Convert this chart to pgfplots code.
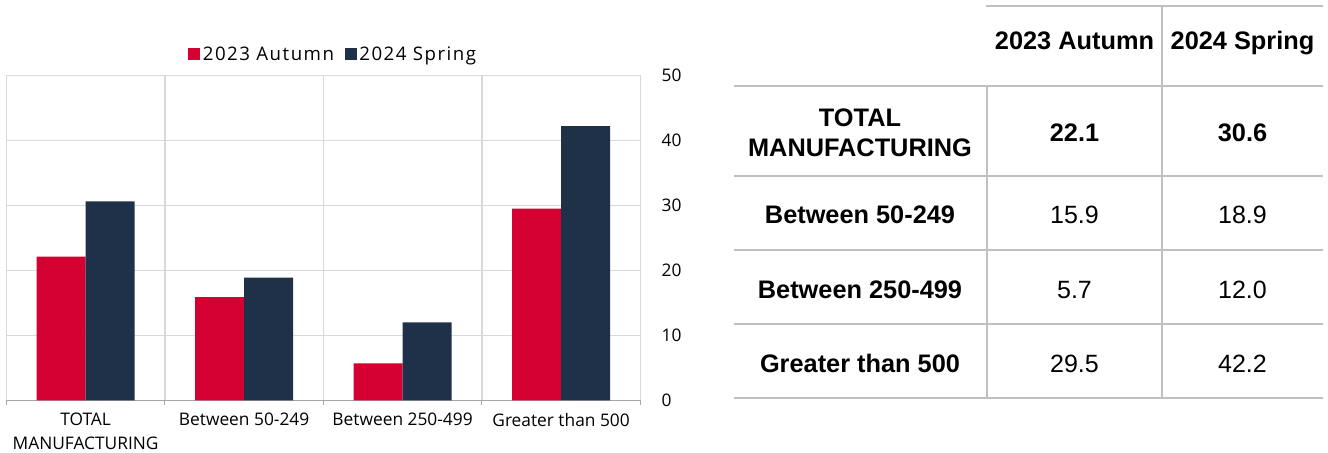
\documentclass[border=0pt]{standalone}
\usepackage{pgfplots}
\pgfplotsset{compat=1.18}
\usepackage{fontspec}
\setmainfont{Open Sans}
\newfontfamily\tabfont{Liberation Sans}
\definecolor{autumn}{HTML}{D50032}
\definecolor{spring}{HTML}{1E3148}
\definecolor{gridg}{HTML}{D9D9D9}
\definecolor{lineg}{HTML}{C0C0C0}
\definecolor{axisg}{HTML}{A6A6A6}

\begin{document}
\begin{tikzpicture}[x=0.75pt,y=0.75pt]
\path[use as bounding box] (0,0) rectangle (1328,453);

\begin{axis}[
    at={(4,81)}, anchor=south west,
    scale only axis, width=475.5pt, height=243.75pt,
    xmin=-0.5, xmax=3.5, ymin=0, ymax=50,
    ybar=0pt, bar width=36.75pt,
    xtick={0,1,2,3},
    xticklabels={{TOTAL\\MANUFACTURING},{Between 50-249},{Between 250-499},{Greater than 500}},
    xticklabel style={align=center, yshift=-6pt, font=\fontsize{13}{18}\selectfont},
    minor xtick={-0.5,0.5,1.5,2.5,3.5},
    xminorgrids, minor x grid style={gridg, line width=1.1pt},
    ymajorgrids, major y grid style={gridg, line width=1.1pt},
    ytick={0,10,20,30,40,50},
    major tick length=0pt, minor tick length=3.75pt, tick align=outside,
    minor x tick style={axisg, line width=0.9pt},
    axis x line*=bottom, x axis line style={axisg, line width=0.9pt, -},
    axis y line*=right, y axis line style={draw=none},
    ytick style={draw=none},
    yticklabel style={anchor=west, xshift=12.5pt, font=\fontsize{13}{16}\selectfont},
    /pgf/number format/assume math mode=true,
    legend style={draw=none, fill=none, at={(0.516,1)}, anchor=center, yshift=15.75pt,
        legend columns=2, font=\fontsize{14}{17}\selectfont\addfontfeatures{LetterSpace=8},
        /tikz/every even column/.append style={column sep=6pt}},
    legend image code/.code={\fill[#1] (0pt,-4.5pt) rectangle (9pt,4.5pt);},
]
\addplot[draw=none, fill=autumn] coordinates {(0,22.1) (1,15.9) (2,5.7) (3,29.5)};
\addplot[draw=none, fill=spring] coordinates {(0,30.6) (1,18.9) (2,12.0) (3,42.2)};
\legend{2023 Autumn, 2024 Spring}
\end{axis}

% table
\begin{scope}[draw=lineg, line width=1.5pt]
\draw (986,447) -- (1323,447);
\draw (734,367) -- (1323,367);
\draw (734,277) -- (1323,277);
\draw (734,203) -- (1323,203);
\draw (734,129) -- (1323,129);
\draw (734,55) -- (1323,55);
\draw (1162,447) -- (1162,55);
\draw (987,367) -- (987,55);
\end{scope}
\tikzset{tb/.style={anchor=base, inner sep=0pt, font=\tabfont\bfseries\fontsize{19}{24}\selectfont},
         tr/.style={anchor=base, inner sep=0pt, font=\tabfont\fontsize{18.75}{24}\selectfont}}
\node[tb] at (1074.5,403) {2023 Autumn};
\node[tb] at (1242.5,403) {2024 Spring};
\node[tb] at (860,326) {TOTAL};
\node[tb] at (860,296) {MANUFACTURING};
\node[tb] at (1074.5,311) {22.1};
\node[tb] at (1242.5,311) {30.6};
\node[tb] at (860,229) {Between 50-249};
\node[tr] at (1074.5,229) {15.9};
\node[tr] at (1242.5,229) {18.9};
\node[tb] at (860,154) {Between 250-499};
\node[tr] at (1074.5,154) {5.7};
\node[tr] at (1242.5,154) {12.0};
\node[tb] at (860,80.5) {Greater than 500};
\node[tr] at (1074.5,80.5) {29.5};
\node[tr] at (1242.5,80.5) {42.2};
\end{tikzpicture}
\end{document}
